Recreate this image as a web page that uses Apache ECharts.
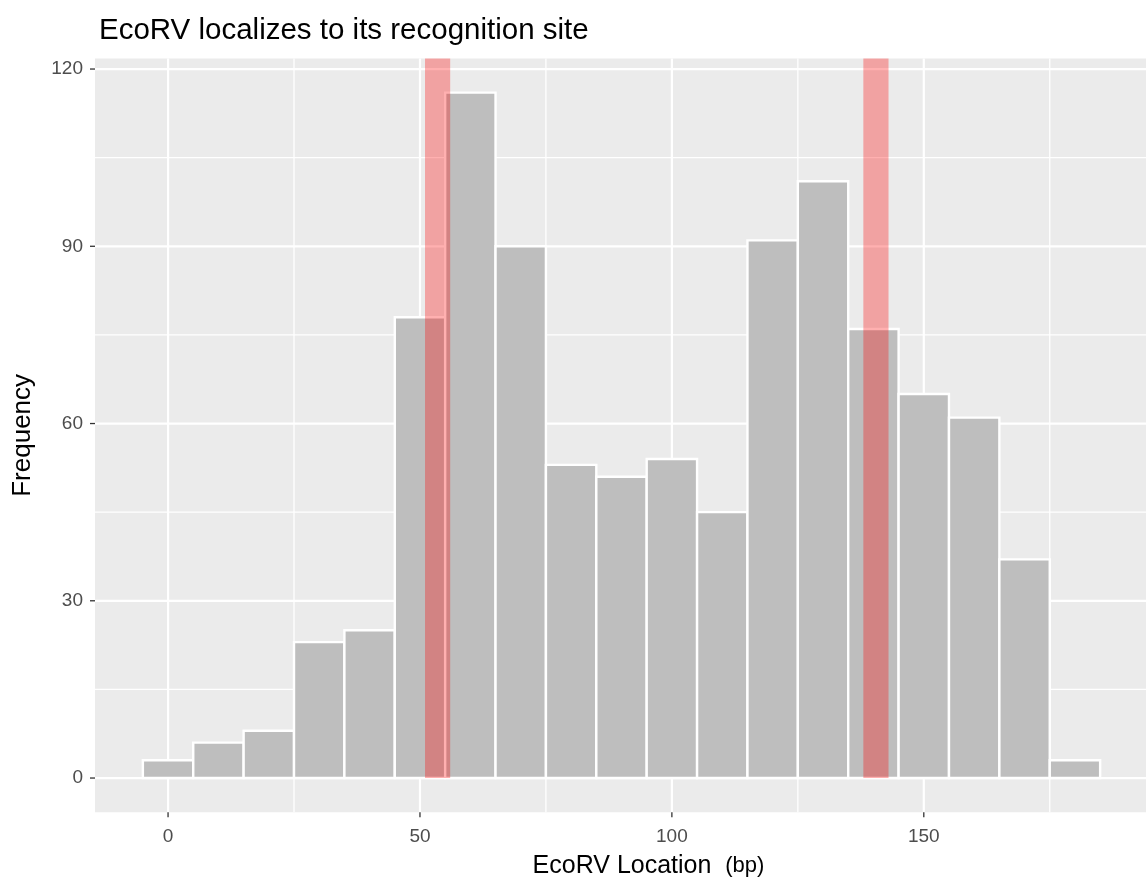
<!DOCTYPE html>
<html>
<head>
<meta charset="utf-8">
<script src="https://cdn.jsdelivr.net/npm/echarts@6/dist/echarts.min.js"></script>
<style>
html,body{margin:0;padding:0;background:#fff;}
#chart{width:1146px;height:879px;}
</style>
</head>
<body>
<div id="chart"></div>
<script>
// ---- data ----
const binCenters = [0,10,20,30,40,50,60,70,80,90,100,110,120,130,140,150,160,170,180];
const binWidth = 10;
const counts = [3,6,8,23,25,78,116,90,53,51,54,45,91,101,76,65,61,37,3];
const siteStarts = [51,138];
const siteEnds = [56,143];
const xTicks = [0,50,100,150];
const xMinor = [25,75,125,175];
const yTicks = [0,30,60,90,120];
const yMinor = [15,45,75,105];
const xRange = [-14.5,194.5];
const yRange = [-5.8,121.8];

const barData = binCenters.map((c,i)=>[c-binWidth/2, c+binWidth/2, counts[i]]);
const siteData = siteStarts.map((s,i)=>[s, siteEnds[i], 0, yRange[1]]);
const gridData = []
  .concat(xMinor.map(v=>[v,0,0]))
  .concat(yMinor.map(v=>[v,1,0]))
  .concat(xTicks.map(v=>[v,0,1]))
  .concat(yTicks.map(v=>[v,1,1]));

const chart = echarts.init(document.getElementById('chart'));
const font = 'Liberation Sans, Arial, Helvetica, sans-serif';

chart.setOption({
  animation:false,
  backgroundColor:'#ffffff',
  title:{
    text:'EcoRV localizes to its recognition site',
    left:94, top:11,
    textStyle:{fontFamily:font,fontSize:29.5,fontWeight:'normal',color:'#000'}
  },
  grid:{
    left:95, top:58.4, width:1053, height:753.9,
    outerBoundsMode:'none', containLabel:false,
    show:true, backgroundColor:'#EBEBEB', borderWidth:0
  },
  xAxis:{
    type:'value', min:xRange[0], max:xRange[1],
    name:'EcoRV Location  {s|(bp)}', nameLocation:'middle', nameGap:41,
    nameTextStyle:{fontFamily:font,fontSize:25,color:'#000',padding:[0,0,0,54],
      rich:{s:{fontFamily:font,fontSize:22,color:'#000'}}},
    axisLine:{show:false},
    axisTick:{show:false},
    axisLabel:{show:true,fontFamily:font,fontSize:19,color:'#4D4D4D',margin:15,customValues:xTicks},
    splitLine:{show:false}
  },
  yAxis:{
    type:'value', min:yRange[0], max:yRange[1],
    name:'Frequency', nameLocation:'middle', nameGap:59, nameRotate:90,
    nameTextStyle:{fontFamily:font,fontSize:26,color:'#000'},
    axisLine:{show:false},
    axisTick:{show:false},
    axisLabel:{show:true,fontFamily:font,fontSize:19,color:'#4D4D4D',margin:12,customValues:yTicks},
    splitLine:{show:false}
  },
  series:[
    {
      type:'custom', name:'grid', silent:true, z:1,
      data:gridData,
      encode:{x:0},
      renderItem:function(params, api){
        const cs = params.coordSys;
        const v = api.value(0), isY = api.value(1), major = api.value(2);
        const children = [];
        if(isY){
          const y = api.coord([0, v])[1];
          children.push({type:'line', shape:{x1:cs.x, y1:y, x2:cs.x+cs.width, y2:y},
            style:{stroke:'#FFFFFF', lineWidth: major?2.2:1.3}});
          if(major) children.push({type:'line', shape:{x1:cs.x-5, y1:y, x2:cs.x, y2:y},
            style:{stroke:'#333333', lineWidth:1.3}});
        } else {
          const x = api.coord([v, 0])[0];
          children.push({type:'line', shape:{x1:x, y1:cs.y, x2:x, y2:cs.y+cs.height},
            style:{stroke:'#FFFFFF', lineWidth: major?2.2:1.3}});
          if(major) children.push({type:'line', shape:{x1:x, y1:cs.y+cs.height, x2:x, y2:cs.y+cs.height+5},
            style:{stroke:'#333333', lineWidth:1.3}});
        }
        return {type:'group', children:children};
      }
    },
    {
      type:'custom', name:'bars', z:2,
      data:barData,
      encode:{x:[0,1], y:2},
      renderItem:function(params, api){
        const p0 = api.coord([api.value(0), api.value(2)]);
        const p1 = api.coord([api.value(1), 0]);
        return {type:'rect', shape:{x:p0[0], y:p0[1], width:p1[0]-p0[0], height:p1[1]-p0[1]},
          style:{fill:'#BEBEBE', stroke:'#FFFFFF', lineWidth:2.4}};
      }
    },
    {
      type:'custom', name:'sites', z:3, silent:true,
      data:siteData,
      encode:{x:[0,1], y:[2,3]},
      renderItem:function(params, api){
        const p0 = api.coord([api.value(0), api.value(3)]);
        const p1 = api.coord([api.value(1), api.value(2)]);
        return {type:'rect', shape:{x:p0[0], y:p0[1], width:p1[0]-p0[0], height:p1[1]-p0[1]},
          style:{fill:'rgba(255,0,0,0.31)'}};
      }
    }
  ]
});
</script>
</body>
</html>
